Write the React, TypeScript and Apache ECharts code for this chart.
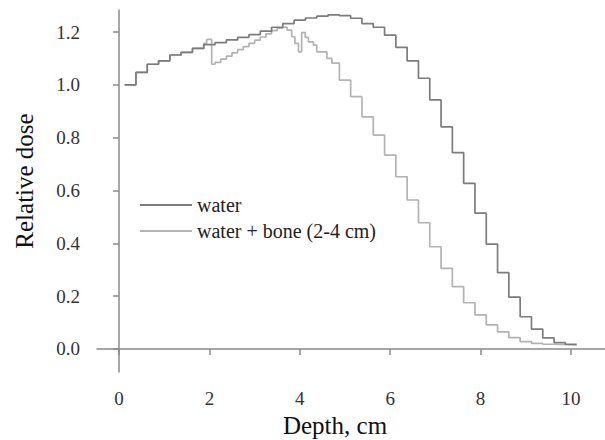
import React, { useEffect, useRef } from "react";
import * as echarts from "echarts";

// Water: bin centres (cm), bin width 0.25 cm
const waterDepth = [
  0.25, 0.5, 0.75, 1.0, 1.25, 1.5, 1.75, 2.0, 2.25, 2.5,
  2.75, 3.0, 3.25, 3.5, 3.75, 4.0, 4.25, 4.5, 4.75, 5.0,
  5.25, 5.5, 5.75, 6.0, 6.25, 6.5, 6.75, 7.0, 7.25, 7.5,
  7.75, 8.0, 8.25, 8.5, 8.75, 9.0, 9.25, 9.5, 9.75, 10.0,
];
const waterBinWidth = 0.25;
const waterDose = [
  1.0, 1.047, 1.078, 1.091, 1.113, 1.123, 1.138, 1.152, 1.16, 1.17,
  1.18, 1.19, 1.203, 1.218, 1.232, 1.245, 1.253, 1.26, 1.265, 1.262,
  1.252, 1.232, 1.218, 1.188, 1.142, 1.091, 1.025, 0.943, 0.841, 0.743,
  0.627, 0.514, 0.397, 0.289, 0.196, 0.122, 0.075, 0.042, 0.024, 0.018,
];

// Water + bone: bin edges (cm), one more than dose values
const boneEdges = [
  0.125, 0.375, 0.625, 0.875, 1.125, 1.375, 1.625, 1.875, 1.94, 2.05,
  2.125, 2.25, 2.375, 2.5, 2.625, 2.75, 2.875, 3.0, 3.125, 3.25,
  3.375, 3.5, 3.625, 3.72, 3.82, 3.89, 3.97, 4.04, 4.12, 4.19,
  4.3, 4.375, 4.6, 4.71, 4.875, 5.125, 5.375, 5.625, 5.875, 6.125,
  6.375, 6.625, 6.875, 7.125, 7.375, 7.625, 7.875, 8.125, 8.375, 8.625,
  8.875, 9.125, 9.375, 9.625, 9.875, 10.125,
];
const boneDose = [
  1.0, 1.047, 1.078, 1.091, 1.113, 1.123, 1.138, 1.157, 1.172, 1.078,
  1.085, 1.097, 1.109, 1.121, 1.133, 1.145, 1.157, 1.169, 1.181, 1.193,
  1.205, 1.215, 1.218, 1.207, 1.182, 1.157, 1.125, 1.198, 1.18, 1.163,
  1.15, 1.125, 1.1, 1.082, 1.018, 0.955, 0.879, 0.81, 0.734, 0.652,
  0.564, 0.478, 0.387, 0.305, 0.236, 0.175, 0.129, 0.091, 0.065, 0.043,
  0.028, 0.021, 0.018, 0.016, 0.015,
];

const xTicks = [0, 2, 4, 6, 8, 10];
const yTicks = [0, 0.2, 0.4, 0.6, 0.8, 1.0, 1.2];

const FONT = "'Liberation Serif', 'Times New Roman', serif";

export default function App() {
  const ref = useRef<HTMLDivElement>(null);
  useEffect(() => {
    if (!ref.current) return;
    const chart = echarts.init(ref.current, null, { renderer: "svg" });

    const waterData: number[][] = waterDepth.map((d, i) => [d - waterBinWidth / 2, waterDose[i]]);
    waterData.push([
      waterDepth[waterDepth.length - 1] + waterBinWidth / 2,
      waterDose[waterDose.length - 1],
    ]);
    const boneData: number[][] = boneDose.map((v, i) => [boneEdges[i], v]);
    boneData.push([boneEdges[boneEdges.length - 1], boneDose[boneDose.length - 1]]);

    chart.setOption({
      animation: false,
      backgroundColor: "#ffffff",
      grid: { left: 97, right: 0, top: 10, bottom: 68, outerBoundsMode: "none" },
      legend: {
        orient: "vertical",
        left: 140,
        top: 195,
        padding: 0,
        icon: "rect",
        itemWidth: 52,
        itemHeight: 2,
        itemGap: 6,
        data: ["water", "water + bone (2-4 cm)"],
        textStyle: { fontFamily: FONT, fontSize: 20, color: "#222" },
      },
      xAxis: {
        type: "value",
        min: -0.487,
        max: 10.752,
        name: "Depth, cm",
        nameLocation: "middle",
        nameGap: 33,
        nameTextStyle: { fontFamily: FONT, fontSize: 25, color: "#111", padding: [0, 32, 0, 0] },
        axisLine: { lineStyle: { color: "#8a8a8a", width: 1.5 } },
        axisTick: { show: true, customValues: xTicks, length: 6, inside: false, lineStyle: { color: "#8a8a8a", width: 1.5 } },
        axisLabel: { customValues: xTicks, fontFamily: FONT, fontSize: 19, color: "#333", margin: 17 },
        splitLine: { show: false },
      },
      yAxis: {
        type: "value",
        min: -0.0871,
        max: 1.2833,
        name: "Relative dose",
        nameLocation: "middle",
        nameGap: 60,
        nameTextStyle: { fontFamily: FONT, fontSize: 25, color: "#111", padding: [0, 0, 0, 20] },
        axisLine: { show: true, lineStyle: { color: "#8a8a8a", width: 1.5 } },
        axisTick: { show: true, customValues: yTicks, length: 6, inside: false, lineStyle: { color: "#8a8a8a", width: 1.5 } },
        axisLabel: {
          customValues: yTicks,
          fontFamily: FONT,
          fontSize: 19,
          color: "#333",
          margin: 17,
          formatter: (v: number) => v.toFixed(1),
        },
        splitLine: { show: false },
      },
      series: [
        {
          name: "water",
          type: "line",
          step: "end",
          symbol: "none",
          data: waterData,
          lineStyle: { color: "#7c7c7c", width: 1.7 },
          itemStyle: { color: "#7c7c7c" },
          z: 3,
        },
        {
          name: "water + bone (2-4 cm)",
          type: "line",
          step: "end",
          symbol: "none",
          data: boneData,
          lineStyle: { color: "#b3b3b3", width: 1.7 },
          itemStyle: { color: "#b3b3b3" },
          z: 2,
        },
      ],
    });
    return () => chart.dispose();
  }, []);
  return (
    <div
      ref={ref}
      style={{ position: "fixed", left: 0, top: 0, width: 605, height: 440, background: "#fff" }}
    />
  );
}
